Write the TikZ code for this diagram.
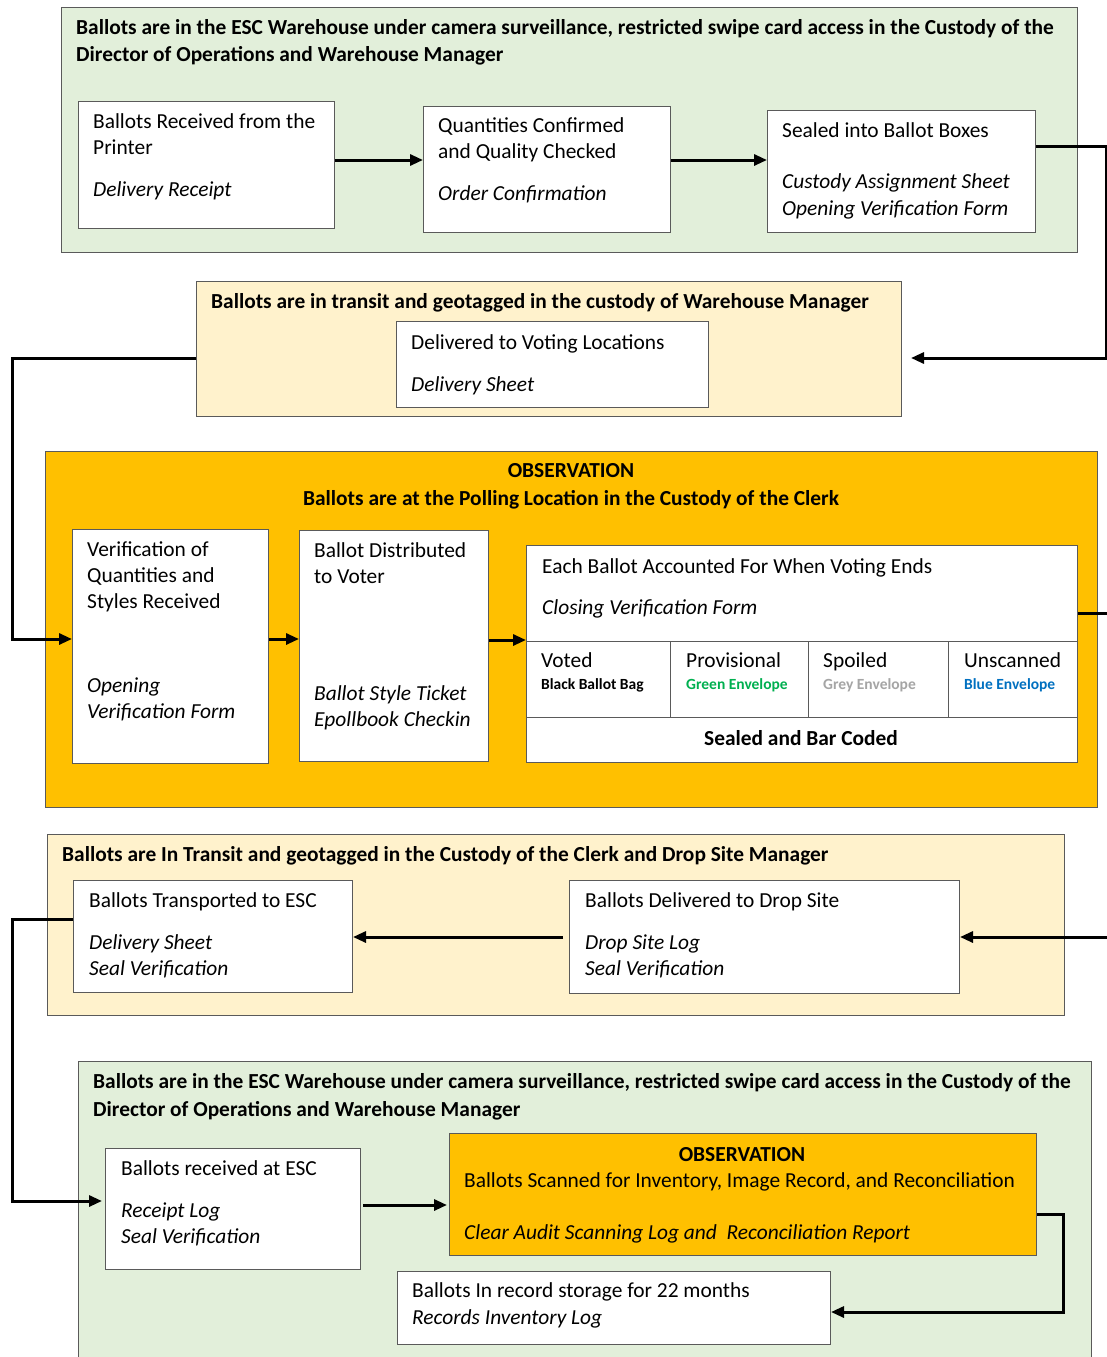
\documentclass[tikz,border=0pt]{standalone}
\usepackage{fontspec}
\setmainfont{Carlito}
\usetikzlibrary{arrows.meta}
\definecolor{lgreen}{HTML}{E2EFDA}
\definecolor{lyellow}{HTML}{FFF2CC}
\definecolor{obsorange}{HTML}{FFC000}
\definecolor{bordergray}{HTML}{5A5A5A}
\definecolor{envgreen}{HTML}{00B050}
\definecolor{envgrey}{HTML}{A5A5A5}
\definecolor{envblue}{HTML}{0070C0}
\tikzset{
  panel/.style={draw=bordergray, line width=1pt, anchor=north west, inner sep=0pt},
  box/.style={draw=bordergray, fill=white, line width=1pt, anchor=north west, inner sep=0pt},
  txt/.style={anchor=base west, inner sep=0pt, font=\fontsize{21.4}{24}\selectfont},
  itxt/.style={anchor=base west, inner sep=0pt, font=\fontsize{21.4}{24}\selectfont\itshape},
  btxt/.style={anchor=base west, inner sep=0pt, font=\fontsize{21.4}{24}\selectfont\bfseries},
  stxt/.style={anchor=base west, inner sep=0pt, font=\fontsize{15.5}{16}\selectfont\bfseries},
  conn/.style={line width=3pt, -{Triangle[length=13pt,width=11pt]}},
  plainline/.style={line width=3pt},
  divider/.style={draw=bordergray, line width=1pt}
}
\begin{document}
\begin{tikzpicture}[x=1pt,y=-1pt]
\useasboundingbox (0,0) rectangle (1107,1357);
\clip (0,0) rectangle (1107,1357);

% ---------- Panel 1 (green) ----------
\node[panel, fill=lgreen, minimum width=1016, minimum height=245] (g1) at (61,7) {};
\node[btxt] (g1t1) at (76,34) {Ballots are in the ESC Warehouse under camera surveillance, restricted swipe card access in the Custody of the};
\node[btxt] (g1t2) at (76,61) {Director of Operations and Warehouse Manager};

\node[box, minimum width=256, minimum height=127] (a1) at (78,101) {};
\node[txt] (a1t1) at (93,128) {Ballots Received from the};
\node[txt] (a1t2) at (93,154) {Printer};
\node[itxt] (a1t3) at (93,196) {Delivery Receipt};

\node[box, minimum width=247, minimum height=126] (a2) at (423,106) {};
\node[txt] (a2t1) at (438,132) {Quantities Confirmed};
\node[txt] (a2t2) at (438,158) {and Quality Checked};
\node[itxt] (a2t3) at (438,200) {Order Confirmation};

\node[box, minimum width=268, minimum height=122] (a3) at (767,110) {};
\node[txt] (a3t1) at (782,137) {Sealed into Ballot Boxes};
\node[itxt] (a3t2) at (782,188) {Custody Assignment Sheet};
\node[itxt] (a3t3) at (782,215) {Opening Verification Form};

% ---------- Panel 2 (yellow) ----------
\node[panel, fill=lyellow, minimum width=705, minimum height=135] (b) at (196,281) {};
\node[btxt] (bt) at (211,308) {Ballots are in transit and geotagged in the custody of Warehouse Manager};
\node[box, minimum width=312, minimum height=86] (b1) at (396,321) {};
\node[txt] (b1t1) at (411,349) {Delivered to Voting Locations};
\node[itxt] (b1t2) at (411,391) {Delivery Sheet};

% ---------- Panel 3 (orange) ----------
\node[panel, fill=obsorange, minimum width=1052, minimum height=356] (c) at (45,451) {};
\node[btxt, anchor=base] (ct1) at (571,477) {OBSERVATION};
\node[btxt, anchor=base] (ct2) at (571,505) {Ballots are at the Polling Location in the Custody of the Clerk};

\node[box, minimum width=196, minimum height=234] (c1) at (72,529) {};
\node[txt] (c1t1) at (87,556) {Verification of};
\node[txt] (c1t2) at (87,582) {Quantities and};
\node[txt] (c1t3) at (87,608) {Styles Received};
\node[itxt] (c1t4) at (87,692) {Opening};
\node[itxt] (c1t5) at (87,718) {Verification Form};

\node[box, minimum width=189, minimum height=231] (c2) at (299,530) {};
\node[txt] (c2t1) at (314,557) {Ballot Distributed};
\node[txt] (c2t2) at (314,583) {to Voter};
\node[itxt] (c2t3) at (314,700) {Ballot Style Ticket};
\node[itxt] (c2t4) at (314,726) {Epollbook Checkin};

\node[box, minimum width=551, minimum height=217] (c3) at (526,545) {};
\draw[divider] (c3.west |- 0,641) -- (c3.east |- 0,641);
\draw[divider] (c3.west |- 0,717) -- (c3.east |- 0,717);
\draw[divider] (670,641) -- (670,717);
\draw[divider] (808,641) -- (808,717);
\draw[divider] (948,641) -- (948,717);
\node[txt] (c3t1) at (542,573) {Each Ballot Accounted For When Voting Ends};
\node[itxt] (c3t2) at (542,614) {Closing Verification Form};
\node[txt] (v1) at (541,667) {Voted};
\node[stxt] (v2) at (541,689) {Black Ballot Bag};
\node[txt] (p1) at (686,667) {Provisional};
\node[stxt, text=envgreen] (p2) at (686,689) {Green Envelope};
\node[txt] (s1) at (823,667) {Spoiled};
\node[stxt, text=envgrey] (s2) at (823,689) {Grey Envelope};
\node[txt] (u1) at (964,667) {Unscanned};
\node[stxt, text=envblue] (u2) at (964,689) {Blue Envelope};
\node[btxt, anchor=base] (sb) at (801,745) {Sealed and Bar Coded};

% ---------- Panel 4 (yellow) ----------
\node[panel, fill=lyellow, minimum width=1017, minimum height=181] (d) at (47,834) {};
\node[btxt] (dt) at (62,861) {Ballots are In Transit and geotagged in the Custody of the Clerk and Drop Site Manager};
\node[box, minimum width=279, minimum height=112] (d1) at (73,880) {};
\node[txt] (d1t1) at (89,907) {Ballots Transported to ESC};
\node[itxt] (d1t2) at (89,949) {Delivery Sheet};
\node[itxt] (d1t3) at (89,975) {Seal Verification};
\node[box, minimum width=390, minimum height=113] (d2) at (569,880) {};
\node[txt] (d2t1) at (585,907) {Ballots Delivered to Drop Site};
\node[itxt] (d2t2) at (585,949) {Drop Site Log};
\node[itxt] (d2t3) at (585,975) {Seal Verification};

% ---------- Panel 5 (green) ----------
\node[panel, fill=lgreen, minimum width=1013, minimum height=320] (e) at (78,1061) {};
\node[btxt] (et1) at (93,1088) {Ballots are in the ESC Warehouse under camera surveillance, restricted swipe card access in the Custody of the};
\node[btxt] (et2) at (93,1116) {Director of Operations and Warehouse Manager};

\node[box, minimum width=255, minimum height=121] (e1) at (105,1148) {};
\node[txt] (e1t1) at (121,1175) {Ballots received at ESC};
\node[itxt] (e1t2) at (121,1217) {Receipt Log};
\node[itxt] (e1t3) at (121,1243) {Seal Verification};

\node[box, fill=obsorange, minimum width=587, minimum height=122] (e2) at (449,1133) {};
\node[btxt, anchor=base] (e2t1) at (742,1161) {OBSERVATION};
\node[txt] (e2t2) at (464,1187) {Ballots Scanned for Inventory, Image Record, and Reconciliation};
\node[itxt] (e2t3) at (464,1239) {Clear Audit Scanning Log and\ \ Reconciliation Report};

\node[box, minimum width=433, minimum height=73] (e3) at (397,1271) {};
\node[txt] (e3t1) at (412,1297) {Ballots In record storage for 22 months};
\node[itxt] (e3t2) at (412,1324) {Records Inventory Log};

% ---------- Connectors ----------
\coordinate (edgeR1) at (1110,613);
\coordinate (edgeR2) at (1110,937);

\draw[conn] (a1.east |- 0,160) -- (a2.west |- 0,160);
\draw[conn] (a2.east |- 0,160) -- (a3.west |- 0,160);
\draw[conn, shorten >=9pt] (a3.east |- 0,146) -- (1106,146) |- (b.east |- 0,358);
\draw[conn] (b.west |- 0,358) -- (12,358) |- (c1.west |- 0,639);
\draw[conn] (c1.east |- 0,639) -- (c2.west |- 0,639);
\draw[conn] (c2.east |- 0,640) -- (c3.west |- 0,640);
\draw[plainline] (c3.east |- edgeR1) -- (edgeR1);
\draw[conn] (edgeR2) -- (d2.east |- edgeR2);
\draw[conn, shorten <=6pt] (d2.west |- 0,937) -- (d1.east |- 0,937);
\draw[conn, shorten >=3pt] (d1.west |- 0,919) -- (12,919) |- (e1.west |- 0,1201);
\draw[conn, shorten <=2pt, shorten >=2pt] (e1.east |- 0,1205) -- (e2.west |- 0,1205);
\draw[conn] (e2.east |- 0,1214) -- (1063,1214) |- (e3.east |- 0,1312);
\end{tikzpicture}
\end{document}
